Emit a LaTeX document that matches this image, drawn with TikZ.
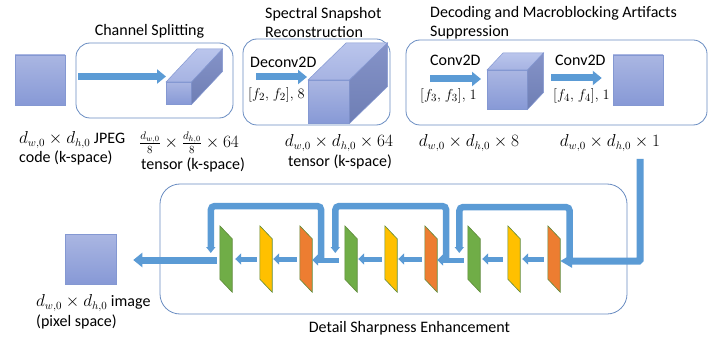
\documentclass[tikz,border=0pt]{standalone}
\usepackage{fontspec}
\setmainfont{Carlito}
\usetikzlibrary{arrows.meta,calc}

\definecolor{flowc}{HTML}{5B9BD5}
\definecolor{framec}{HTML}{6A8DC2}
\definecolor{edgec}{HTML}{8498D2}
\definecolor{facetop}{HTML}{AAB6E2}
\definecolor{facebot}{HTML}{8799D6}
\definecolor{lidtop}{HTML}{BAC5EC}
\definecolor{lidbot}{HTML}{A6B3E2}
\definecolor{sidetop}{HTML}{8593C8}
\definecolor{sidebot}{HTML}{6E7EB4}
\definecolor{greenc}{HTML}{70AD47}
\definecolor{yellowc}{HTML}{FFC000}
\definecolor{orangec}{HTML}{ED7D31}
\definecolor{platec}{HTML}{5E8A3A}

\tikzset{
  txt/.style={font=\fontsize{16}{19}\selectfont, inner sep=0pt, align=left},
  param/.style={font=\fontsize{15}{18}\selectfont, inner sep=0pt, align=left},
  frame/.style={draw=framec, line width=0.8pt, rounded corners=14pt, inner sep=0pt},
  face/.style={draw=edgec, line width=0.5pt, top color=facetop, bottom color=facebot, inner sep=0pt},
  lid/.style={draw=edgec, line width=0.5pt, top color=lidtop, bottom color=lidbot},
  side/.style={draw=edgec, line width=0.5pt, top color=sidetop, bottom color=sidebot},
  flow/.style={draw=flowc, line width=7pt, -{Triangle[width=14pt,length=9pt]}},
  thinflow/.style={draw=flowc, line width=5pt, -{Triangle[width=11pt,length=6pt]}},
  skip/.style={draw=flowc, line width=6.5pt, rounded corners=4pt, -{Triangle[width=9pt,length=6pt]}},
  platebox/.style={inner sep=0pt, minimum width=12pt, minimum height=66pt},
}

% box-shaped tensor: front face node plus top and side faces
\newcommand{\tensorbox}[7]{%
  \node[face, minimum width=#4pt, minimum height=#5pt, anchor=north west] (#1) at (#2,#3) {};
  \draw[lid] (#1.north west) -- (#1.north east) -- ++(#6,#7) -- ($(#1.north west)+(#6,#7)$) -- cycle;
  \draw[side] (#1.north east) -- (#1.south east) -- ++(#6,#7) -- ($(#1.north east)+(#6,#7)$) -- cycle;
}

% slanted layer plate
\newcommand{\layerplate}[3]{%
  \node[platebox] (#1) at (#2+6,259) {};
  \filldraw[fill=#3, draw=platec, line width=0.6pt]
    (#1.north west) -- ($(#1.north east)+(0,13)$) -- (#1.south east) -- ($(#1.south west)+(0,-13)$) -- cycle;
}

\begin{document}
\begin{tikzpicture}[x=1pt,y=-1pt]
\useasboundingbox[fill=white] (0,0) rectangle (722,339);

% ---------- frames ----------
\node[frame, minimum width=157pt, minimum height=75pt] (csbox) at (154.5,80.5) {};
\node[frame, minimum width=147pt, minimum height=86pt] (ssbox) at (316.5,82) {};
\node[frame, minimum width=301pt, minimum height=85pt] (dmbox) at (556.5,82.5) {};
\node[frame, rounded corners=20pt, minimum width=467pt, minimum height=130pt] (dsbox) at (393.5,249) {};

% ---------- titles ----------
\node[txt, anchor=center] (cstitle) at (149.5,31) {Channel Splitting};
\node[txt, anchor=west] (sstitle1) at (265,14) {Spectral Snapshot};
\node[txt, anchor=west] (sstitle2) at (265,32) {Reconstruction};
\node[txt, anchor=west] (dmtitle1) at (430,13) {Decoding and Macroblocking Artifacts};
\node[txt, anchor=west] (dmtitle2) at (430,32) {Suppression};
\node[txt, anchor=center] (dstitle) at (409.5,328) {Detail Sharpness Enhancement};

% ---------- top row ----------
\node[face, minimum width=50pt, minimum height=50pt] (jpeg) at (40,80) {};

\tensorbox{prism}{166}{82}{25}{22}{31}{-33}
\coordinate (csin) at (78,76.5);
\draw[flow] (csin) -- (prism.west |- csin);

\tensorbox{slab}{308}{80}{41}{43}{38}{-37}
\coordinate (dcin) at (256,77);
\draw[flow] (dcin) -- ($(slab.west |- dcin)+(-1,0)$);
\node[txt, anchor=west] (dclab) at (250,62) {Deconv2D};
\node[param, anchor=west] (dcpar) at (248,95) {$[f_2,\mkern2mu f_2],\mkern2mu 8$};

\tensorbox{cube}{487}{70}{40}{39}{16}{-17}
\coordinate (cvin) at (430,79);
\draw[flow] (cvin) -- ($(cube.west |- cvin)+(-6,0)$);
\node[txt, anchor=west] (cvlab) at (430,60) {Conv2D};
\node[param, anchor=west] (cvpar) at (420,96) {$[f_3,\mkern2mu f_3],\mkern2mu 1$};

\node[face, minimum width=50pt, minimum height=50pt] (decoded) at (638,80) {};
\coordinate (cv2in) at (551,78);
\draw[flow] (cv2in) -- ($(decoded.west |- cv2in)+(-11,0)$);
\node[txt, anchor=west] (cv2lab) at (555,60) {Conv2D};
\node[param, anchor=west] (cv2par) at (553,96) {$[f_4,\mkern2mu f_4],\mkern2mu 1$};

% ---------- sizes ----------
\node[txt, anchor=west] (jpl1) at (19,140) {$d_{w,0}\times d_{h,0}$ JPEG};
\node[txt, anchor=west] (jpl2) at (19,158) {code (k-space)};
\node[txt, anchor=west] (prl1) at (139,143) {$\frac{d_{w,0}}{8}\times\frac{d_{h,0}}{8}\times 64$};
\node[txt, anchor=west] (prl2) at (141,165) {tensor (k-space)};
\node[txt, anchor=center] (sll1) at (339,143) {$d_{w,0}\times d_{h,0}\times 64$};
\node[txt, anchor=center] (sll2) at (340,162) {tensor (k-space)};
\node[txt, anchor=center] (cul1) at (469,143) {$d_{w,0}\times d_{h,0}\times 8$};
\node[txt, anchor=center] (del1) at (610,143) {$d_{w,0}\times d_{h,0}\times 1$};

% ---------- detail sharpness chain ----------
\layerplate{g1}{220}{greenc}
\layerplate{y1}{260}{yellowc}
\layerplate{o1}{300}{orangec}
\layerplate{g2}{345}{greenc}
\layerplate{y2}{385}{yellowc}
\layerplate{o2}{425}{orangec}
\layerplate{g3}{468}{greenc}
\layerplate{y3}{508}{yellowc}
\layerplate{o3}{548}{orangec}

\node[face, minimum width=51pt, minimum height=50pt] (image) at (90.5,259) {};
\node[txt, anchor=west] (iml1) at (36,303) {$d_{w,0}\times d_{h,0}$ image};
\node[txt, anchor=west] (iml2) at (36,322) {(pixel space)};

% skip connections
\draw[skip] ($(o3.east)+(9.5,0)$) -- ++(0,-52) -| ($(g3.west)+(-8.5,-6)$);
\draw[skip] ($(o2.east)+(9,0)$) -- ++(0,-53) -| ($(g2.west)+(-9.5,-6)$);
\draw[skip] ($(o1.east)+(9,0)$) -- ++(0,-53) -| ($(g1.west)+(-9,-6)$);

% input from the decoded image
\coordinate (dsin) at (640,159);
\draw[draw=flowc, line width=7pt, rounded corners=1pt, -{Triangle[width=13pt,length=12pt]}]
  (dsin) |- ($(o3.east)+(0,2)$);

% layer-to-layer flow
\draw[thinflow, shorten <=4pt, shorten >=2pt] (o3.west) -- (y3.east);
\draw[thinflow, shorten <=5pt, shorten >=2pt] (y3.west) -- (g3.east);
\draw[thinflow, shorten <=4pt] ($(g3.west)+(0,1)$) -- ($(o2.east)+(0,1)$);
\draw[thinflow, shorten <=3pt, shorten >=1pt] (o2.west) -- (y2.east);
\draw[thinflow, shorten <=3pt, shorten >=1pt] (y2.west) -- (g2.east);
\draw[thinflow, shorten <=6pt] ($(g2.west)+(0,1)$) -- ($(o1.east)+(0,1)$);
\draw[thinflow, shorten <=3pt, shorten >=1pt] (o1.west) -- (y1.east);
\draw[thinflow, shorten <=3pt, shorten >=3pt] (y1.west) -- (g1.east);
\draw[flow, shorten <=3pt, shorten >=17pt] ($(g1.west)+(0,1)$) -- ($(image.east)+(0,1)$);
\end{tikzpicture}
\end{document}
